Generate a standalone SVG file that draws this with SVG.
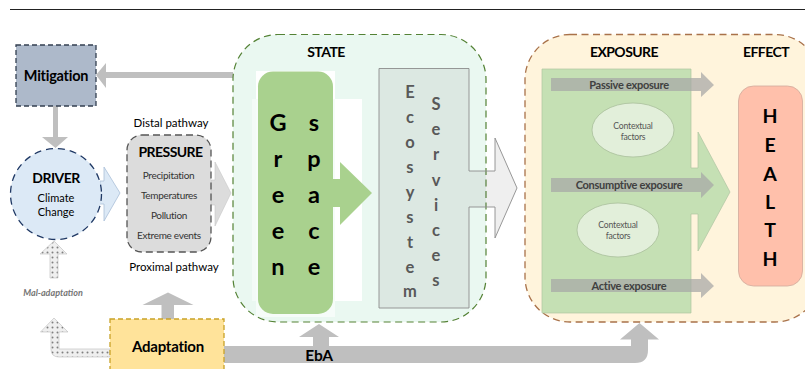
<svg xmlns="http://www.w3.org/2000/svg" width="805" height="369" viewBox="0 0 805 369">
<style>
text{font-family:"Lato","Liberation Sans",sans-serif;text-anchor:middle;fill:#000}
.b{font-weight:700}
.arrow{fill:#bfbfbf}
.dot{fill:url(#dots);stroke:#c4c4c4;stroke-width:.7}
.press{font-size:10px;fill:#333;letter-spacing:-.3px}
.letter{font-size:23.5px;font-weight:700}
.eco{font-size:16.5px;font-weight:700;fill:#595959}
.hl{font-size:19.5px;font-weight:700}
.exp{fill:#a6a6a6;fill-opacity:.72}
.expt{font-size:11px;font-weight:700;fill:#404040;letter-spacing:-.27px}
.ctx{fill:#e2efda;stroke:#a9bf9c;stroke-width:.8}
.ctxt{font-size:8.600px;fill:#555;letter-spacing:-.2px}
.head{font-size:14px;font-weight:700;letter-spacing:-.55px}
</style>
<defs>
<pattern id="dots" width="5" height="5" patternUnits="userSpaceOnUse">
<rect width="5" height="5" fill="#efefef"/>
<circle cx="2.5" cy="2.5" r="1" fill="#7f7f7f"/>
</pattern>
</defs>
<rect width="805" height="369" fill="#fff"/>
<path d="M10 9.5H805" stroke="#222" stroke-width="1"/>
<g id="connectors">
<path class="arrow" d="M233 72V78H106V88L96 75L106 63V72Z"/>
<path class="arrow" d="M53 106H58V137H68L55.500 148L42 137H53Z"/>
<path d="M100 181H104V167L120 193L104 221V204H100Z" fill="#dce9f6" stroke="#a9bfd8" stroke-width=".8"/>
<path d="M211 180H215V162L231 193L215 226V205H211Z" fill="#dcdcdc" stroke="#c8c8c8" stroke-width=".6"/>
<path class="arrow" d="M161.500 319V305H142.500L168 292.500L193.500 305H174V319Z"/>
<path class="dot" d="M50 278V254H40L54 241L67 254H58V278Z"/>
<path class="dot" d="M110 349H59V332H68L54 318L40.500 332H51V349Q51 357 59 357H110Z"/>
<path class="arrow" d="M224 346H631V339.500H620L639.500 323L659 339.500H648V350Q648 363 635 363H224Z"/>
<path class="arrow" d="M313 346V337H299L319 324L339 337H329V346Z"/>
<text class="b" x="319" y="360.500" font-size="15.500" letter-spacing="-.3">EbA</text>
</g>
<g id="mitigation">
<rect x="16" y="45" width="80" height="61" fill="#adb9ca" stroke="#333f50" stroke-width="1.300" stroke-dasharray="5 3"/>
<text class="b" x="56" y="81" font-size="14.500" letter-spacing="-.25">Mitigation</text>
</g>
<g id="driver">
<circle cx="56" cy="194" r="45.500" fill="#dce9f6" stroke="#1f3864" stroke-width="1.300" stroke-dasharray="7 5"/>
<text class="head" x="56" y="183">DRIVER</text>
<text x="56" y="202" font-size="11" fill="#333">Climate</text>
<text x="56" y="216" font-size="11" fill="#333">Change</text>
</g>
<g id="pressure">
<rect x="127" y="135" width="84" height="117" rx="15" fill="#dcdcdc" stroke="#555" stroke-width="1.300" stroke-dasharray="7 4"/>
<text class="head" x="170.500" y="157">PRESSURE</text>
<text class="press" x="168.500" y="179">Precipitation</text>
<text class="press" x="169" y="199">Temperatures</text>
<text class="press" x="169" y="219">Pollution</text>
<text class="press" x="169" y="239">Extreme events</text>
</g>
<text x="171" y="127" font-size="11.500" fill="#222">Distal pathway</text>
<text x="174" y="271" font-size="11.500" fill="#222">Proximal pathway</text>
<text x="53" y="296" font-size="9" font-weight="700" font-style="italic" style="fill:#767676">Mal-adaptation</text>
<g id="adaptation">
<rect x="110" y="319" width="114" height="60" fill="#ffe39a" stroke="#c9a227" stroke-width="1.300" stroke-dasharray="5 3"/>
<text class="b" x="168" y="351.500" font-size="15" letter-spacing="-.25">Adaptation</text>
</g>
<g id="state">
<rect x="233" y="34.500" width="253" height="287.500" rx="45" fill="#eaf8f1"/>
<rect x="252" y="99" width="110" height="202" fill="#f3fbf7"/>
<rect x="256" y="71" width="79" height="246" fill="#f6fcf9"/>
<rect x="256" y="71" width="79" height="28" fill="#fff"/>
<rect x="335" y="99" width="27" height="202" fill="#fff"/>
<rect x="233" y="34.500" width="253" height="287.500" rx="45" fill="none" stroke="#548235" stroke-width="1.200" stroke-dasharray="7 4.500"/>
<text class="head" x="326" y="57">STATE</text>
</g>
<g id="green-space">
<path d="M333 179H340V162L372 193L340 225V207H333Z" fill="#a9d18e"/>
<rect x="258" y="71.500" width="75" height="242.500" rx="15" fill="#a9d18e"/>
<text class="letter" x="278" y="131">G</text><text class="letter" x="278" y="167">r</text><text class="letter" x="278" y="203">e</text><text class="letter" x="278" y="239">e</text><text class="letter" x="278" y="275">n</text>
<text class="letter" x="314" y="131">s</text><text class="letter" x="314" y="167">p</text><text class="letter" x="314" y="203">a</text><text class="letter" x="314" y="239">c</text><text class="letter" x="314" y="275">e</text>
</g>
<g id="ecosystem-services">
<path d="M379 68.500H469V171H495V138L517 188L495 238V207H469V308H379Z" fill="#646464" fill-opacity=".1" stroke="#8c8c8c" stroke-width=".9"/>
<text class="eco" x="410" y="98">E</text><text class="eco" x="410" y="123">c</text><text class="eco" x="410" y="148">o</text><text class="eco" x="410" y="173">s</text><text class="eco" x="410" y="198">y</text><text class="eco" x="410" y="223">s</text><text class="eco" x="410" y="248">t</text><text class="eco" x="410" y="273">e</text><text class="eco" x="410" y="297">m</text>
<text class="eco" x="436" y="110">S</text><text class="eco" x="436" y="135">e</text><text class="eco" x="436" y="160">r</text><text class="eco" x="436" y="186">v</text><text class="eco" x="436" y="211">i</text><text class="eco" x="436" y="236">c</text><text class="eco" x="436" y="261">e</text><text class="eco" x="436" y="286">s</text>
</g>
<g id="exposure">
<rect x="525" y="34.500" width="295" height="287.500" rx="45" fill="#fff4dc" stroke="#a9724a" stroke-width="1.300" stroke-dasharray="7 4.500"/>
<path d="M542 69H691V168H698V132L730 192L698 251V214H691V313H542Z" fill="#c5e0b4" stroke="#afc4a2" stroke-width=".7"/>
<text class="head" x="624" y="57">EXPOSURE</text>
</g>
<g id="effect">
<text class="head" x="766" y="57">EFFECT</text>
</g>
<g id="contextual-1">
<ellipse class="ctx" cx="633" cy="130" rx="41" ry="27"/>
<text class="ctxt" x="633" y="129">Contextual</text>
<text class="ctxt" x="633" y="139.500">factors</text>
</g>
<g id="contextual-2">
<ellipse class="ctx" cx="618" cy="230" rx="41" ry="27"/>
<text class="ctxt" x="618" y="228">Contextual</text>
<text class="ctxt" x="618" y="238.500">factors</text>
</g>
<g id="passive-exposure">
<path class="exp" d="M551 78H701V72L714 85L701 97V91H551Z"/>
<text class="expt" x="629" y="88.500">Passive exposure</text>
</g>
<g id="consumptive-exposure">
<path class="exp" d="M551 178H701V172L714 185L701 198V192H551Z"/>
<text class="expt" x="629" y="189">Consumptive exposure</text>
</g>
<g id="active-exposure">
<path class="exp" d="M551 279H701V273L714 286L701 298V292H551Z"/>
<text class="expt" x="629" y="290">Active exposure</text>
</g>
<g id="health">
<rect x="738.500" y="86" width="64" height="200" rx="15" fill="#ffc0ab" stroke="#d0aa9c" stroke-width=".8"/>
<text class="hl" x="770" y="123">H</text><text class="hl" x="770" y="152">E</text><text class="hl" x="770" y="181">A</text><text class="hl" x="770" y="209">L</text><text class="hl" x="770" y="237">T</text><text class="hl" x="770" y="266">H</text>
</g>
</svg>
